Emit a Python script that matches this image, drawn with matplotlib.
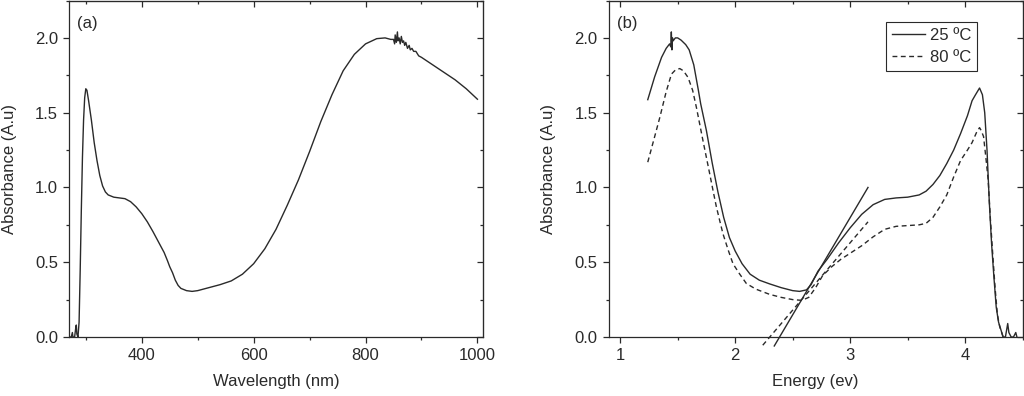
import matplotlib
matplotlib.use("Agg")
import matplotlib.pyplot as plt
from matplotlib.ticker import MultipleLocator

plt.rcParams['font.family'] = ['Liberation Sans', 'DejaVu Sans']
plt.rcParams['font.size'] = 12

# (a) absorbance vs wavelength
wavelength = [270, 274, 276, 277, 280, 282, 283, 284, 286, 288, 290, 292, 294, 296, 298,
              300, 302, 305, 310, 315, 320, 325, 330, 335, 340, 350, 360, 370, 380, 390,
              400, 410, 420, 430, 440, 446, 450, 455, 460, 465, 470, 480, 490, 500, 520, 540,
              560, 580, 600, 620, 640, 660, 680, 700, 720, 740, 760, 780, 800, 820, 835,
              845, 850, 852, 853, 855, 857, 858, 860, 862, 864, 866, 868, 870, 872, 875,
              878, 880, 883, 886, 890, 895, 900, 920, 940, 960, 980, 1000]
absorb_a = [0.0, 0.0, 0.03, 0.0, 0.0, 0.06, 0.08, 0.02, 0.0, 0.1, 0.45, 0.85, 1.2, 1.45, 1.6,
            1.66, 1.65, 1.58, 1.45, 1.3, 1.18, 1.08, 1.01, 0.97, 0.95, 0.935, 0.93, 0.925, 0.905, 0.87,
            0.825, 0.77, 0.705, 0.635, 0.565, 0.51, 0.47, 0.43, 0.38, 0.345, 0.325, 0.31, 0.305, 0.31, 0.33, 0.35,
            0.375, 0.42, 0.49, 0.59, 0.72, 0.88, 1.05, 1.24, 1.44, 1.62, 1.78, 1.89, 1.96, 1.995, 2.0,
            1.99, 1.99, 1.96, 2.02, 1.97, 2.04, 1.98, 2.0, 1.96, 2.01, 1.97, 1.98, 1.95, 1.97, 1.93,
            1.95, 1.92, 1.93, 1.91, 1.91, 1.88, 1.87, 1.82, 1.77, 1.72, 1.66, 1.59]

# (b) absorbance vs energy
energy_25 = [1.24, 1.30, 1.36, 1.40, 1.43, 1.44, 1.445, 1.45, 1.455, 1.46, 1.48, 1.50, 1.53,
             1.57, 1.60, 1.64, 1.68, 1.70, 1.75, 1.80, 1.85, 1.90, 1.95, 2.00, 2.06, 2.13,
             2.21, 2.30, 2.40, 2.50, 2.56, 2.62, 2.66, 2.72, 2.80, 2.90, 3.00, 3.10, 3.20, 3.30,
             3.40, 3.50, 3.60, 3.66, 3.72, 3.78, 3.84, 3.90, 3.96, 4.02, 4.06, 4.09, 4.125, 4.15,
             4.17, 4.19, 4.21, 4.23, 4.25, 4.27, 4.29, 4.31, 4.33, 4.35, 4.37, 4.38, 4.40, 4.42,
             4.44, 4.45]
absorb_25 = [1.587, 1.74, 1.87, 1.93, 1.96, 1.94, 2.04, 1.92, 2.0, 1.98, 2.0, 2.0, 1.985,
             1.955, 1.92, 1.82, 1.65, 1.56, 1.38, 1.165, 0.97, 0.80, 0.665, 0.575, 0.49, 0.42,
             0.38, 0.355, 0.33, 0.31, 0.305, 0.315, 0.35, 0.44, 0.52, 0.63, 0.73, 0.82, 0.885, 0.92,
             0.93, 0.935, 0.95, 0.975, 1.02, 1.08, 1.16, 1.25, 1.36, 1.48, 1.58, 1.62, 1.665, 1.62,
             1.5, 1.25, 0.9, 0.62, 0.4, 0.2, 0.1, 0.05, 0.0, 0.0, 0.09, 0.03, 0.0, 0.0,
             0.03, 0.0]

energy_80 = [1.24, 1.30, 1.345, 1.40, 1.446, 1.48, 1.518, 1.55, 1.59, 1.63, 1.663, 1.69, 1.72,
             1.75, 1.779, 1.81, 1.837, 1.865, 1.894, 1.94, 1.981, 2.04, 2.097, 2.18, 2.30, 2.40,
             2.50, 2.58, 2.64, 2.70, 2.76, 2.84, 2.92, 3.00, 3.10, 3.20, 3.30, 3.40, 3.50, 3.60,
             3.66, 3.72, 3.78, 3.84, 3.90, 3.96, 4.02, 4.06, 4.10, 4.125, 4.14, 4.16, 4.18, 4.20,
             4.22, 4.24, 4.26, 4.28, 4.30, 4.33]
absorb_80 = [1.169, 1.34, 1.469, 1.64, 1.758, 1.785, 1.795, 1.78, 1.736, 1.65, 1.535, 1.43, 1.313,
             1.20, 1.09, 0.97, 0.869, 0.78, 0.69, 0.58, 0.49, 0.42, 0.358, 0.32, 0.285, 0.265,
             0.25, 0.245, 0.265, 0.33, 0.41, 0.47, 0.52, 0.56, 0.61, 0.67, 0.72, 0.74, 0.745, 0.75,
             0.76, 0.80, 0.87, 0.95, 1.07, 1.18, 1.25, 1.30, 1.37, 1.40, 1.38, 1.34, 1.2, 1.05,
             0.78, 0.55, 0.33, 0.15, 0.07, 0.0]

# linear fits at the absorption edge
fit_25_e = [2.34, 3.155]
fit_25_a = [-0.06, 1.0]
fit_80_e = [2.24, 3.155]
fit_80_a = [-0.055, 0.77]

ink = '#2a2a2a'

fig = plt.figure(figsize=(10.24, 3.96), dpi=100)
ax1 = fig.add_axes([0.0674, 0.149, 0.4043, 0.8497])
ax2 = fig.add_axes([0.5944, 0.149, 0.4043, 0.8497])


def style(ax, xmaj, xmin):
    ax.set_ylim(0, 2.25)
    ax.xaxis.set_major_locator(MultipleLocator(xmaj))
    ax.xaxis.set_minor_locator(MultipleLocator(xmin))
    ax.yaxis.set_major_locator(MultipleLocator(0.5))
    ax.yaxis.set_minor_locator(MultipleLocator(0.25))
    ax.yaxis.set_major_formatter(plt.FormatStrFormatter('%.1f'))
    ax.tick_params(which='major', direction='out', length=4.5, width=0.9, color=ink, labelcolor=ink)
    ax.tick_params(which='minor', direction='out', length=2.5, width=0.9, color=ink)
    for s in ax.spines.values():
        s.set_color(ink)
        s.set_linewidth(0.9)
    top = ax.secondary_xaxis('top')
    top.xaxis.set_major_locator(MultipleLocator(xmaj))
    top.xaxis.set_minor_locator(MultipleLocator(xmin))
    top.tick_params(which='both', direction='in', labeltop=False, width=0.9, color=ink)
    top.tick_params(which='major', length=4.5)
    top.tick_params(which='minor', length=2.5)
    top.spines['top'].set_color(ink)
    right = ax.secondary_yaxis('right')
    right.yaxis.set_major_locator(MultipleLocator(0.5))
    right.yaxis.set_minor_locator(MultipleLocator(0.25))
    right.tick_params(which='both', direction='in', labelright=False, width=0.9, color=ink)
    right.tick_params(which='major', length=4.5)
    right.tick_params(which='minor', length=2.5)
    right.spines['right'].set_color(ink)
    ax.set_ylabel('Absorbance (A.u)', color=ink, labelpad=13)


ax1.plot(wavelength, absorb_a, color=ink, lw=1.0)
ax1.set_xlim(270, 1010)
style(ax1, 200, 100)
ax1.set_xlabel('Wavelength (nm)', color=ink, labelpad=8)
ax1.text(0.02, 0.955, '(a)', transform=ax1.transAxes, color=ink, va='top')

ax2.plot(energy_25, absorb_25, color=ink, lw=1.0, label='25 ºC')
ax2.plot(energy_80, absorb_80, color=ink, lw=1.0, ls=(0, (3.5, 2.5)), label='80 ºC')
ax2.plot(fit_25_e, fit_25_a, color=ink, lw=1.0, clip_on=False)
ax2.plot(fit_80_e, fit_80_a, color=ink, lw=1.0, ls=(0, (3.5, 2.5)), clip_on=False)
ax2.set_xlim(0.9, 4.5)
style(ax2, 1, 0.5)
ax2.set_xlabel('Energy (ev)', color=ink, labelpad=8)
ax2.text(0.02, 0.955, '(b)', transform=ax2.transAxes, color=ink, va='top')
leg = ax2.legend(loc='upper right', bbox_to_anchor=(0.89, 0.937), borderaxespad=0,
                 fancybox=False, framealpha=1, edgecolor=ink, handlelength=2.0,
                 handletextpad=0.3, labelspacing=0.45, borderpad=0.35)
leg.get_frame().set_linewidth(0.8)
for t in leg.get_texts():
    t.set_color(ink)

fig.savefig('out.png', dpi=100)
